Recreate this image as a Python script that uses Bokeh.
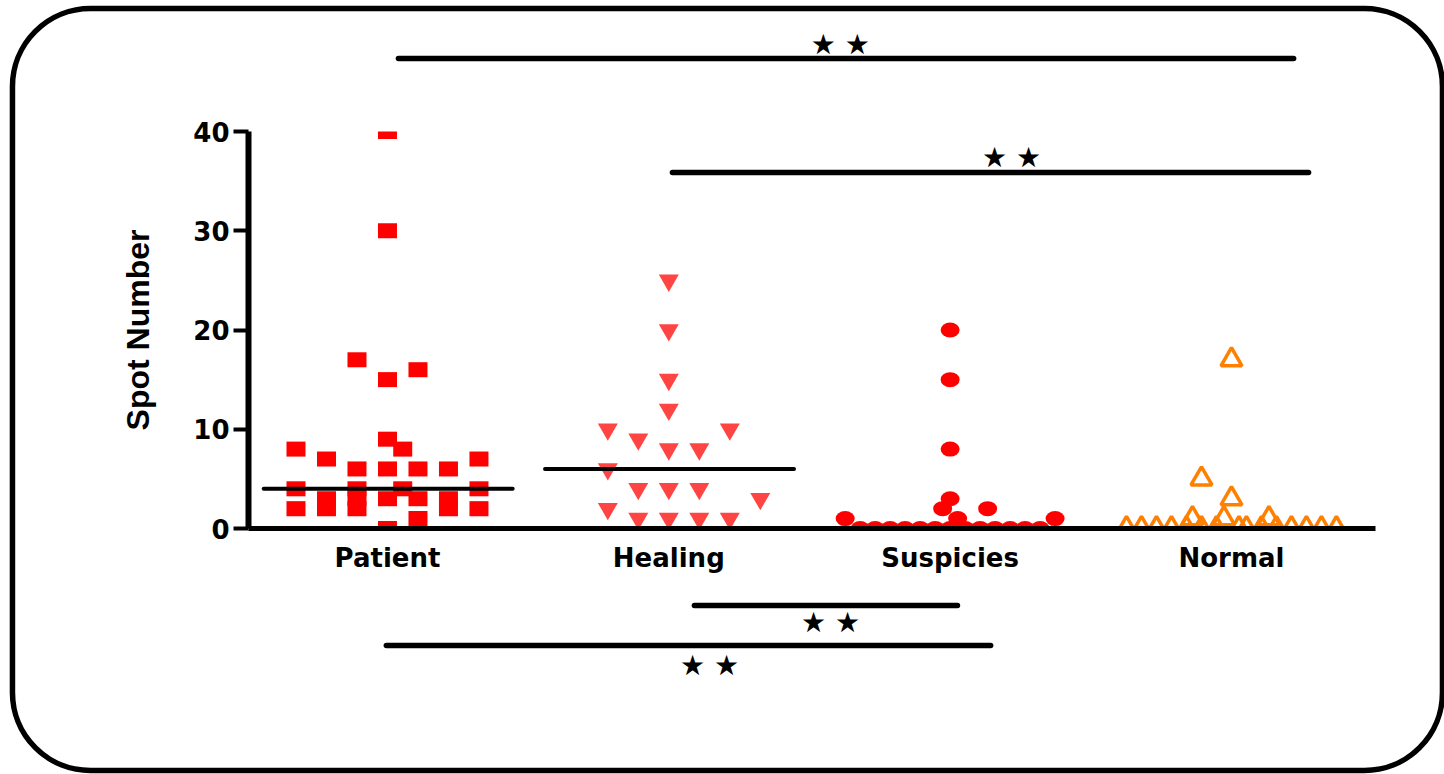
import numpy as np
from bokeh.plotting import figure
from bokeh.models import FixedTicker, Range1d
from bokeh.core.properties import value
from bokeh.embed import file_html
from bokeh.resources import INLINE

# ---------------- data ----------------
categories = ["Patient", "Healing", "Suspicies", "Normal"]

patient_values = [40, 30, 17, 16, 15, 9, 8, 8, 7, 7, 6, 6, 6, 6, 4, 4, 4, 4,
                  3, 3, 3, 3, 3, 2, 2, 2, 2, 2, 1, 0]
patient_slots = [0, 0, -1, 1, 0, 0, -3, 0.5, -2, 3, -1, 0, 1, 2, -3, -1, 0.5, 3,
                 -2, -1, 0, 1, 2, -3, -2, -1, 2, 3, 1, 0]

healing_values = [25, 20, 15, 12, 10, 10, 9, 8, 8, 6, 4, 4, 4, 3, 2, 1, 1, 1, 1]
healing_slots = [0, 0, 0, 0, -2, 2, -1, 0, 1, -2, -1, 0, 1, 3, -2, -1, 0, 1, 2]

suspicies_values = [20, 15, 8, 3, 2, 2, 1, 1, 1,
                    0, 0, 0, 0, 0, 0, 0, 0, 0, 0, 0, 0, 0]
suspicies_slots = [0, 0, 0, 0, -0.5, 2.5, -7, 0.5, 7,
                   -6, -5, -4, -3, -2, -1, 0, 1, 2, 3, 4, 5, 6]

normal_values = [17, 5, 3, 1, 1, 1,
                 0, 0, 0, 0, 0, 0, 0, 0, 0, 0, 0, 0, 0, 0, 0]
normal_slots = [0, -2, 0, -2.6, -0.5, 2.5,
                -7, -6, -5, -4, -3, -2, -1, 0.5, 1, 2, 3, 4, 5, 6, 7]

y_ticks = [0, 10, 20, 30, 40]
y_label = "Spot Number"

# significance comparisons (pairs) and their label
sig_pairs = [("Patient", "Normal"), ("Healing", "Normal"),
             ("Healing", "Suspicies"), ("Patient", "Suspicies")]
sig_text = ["★ ★", "★ ★", "★ ★", "★ ★"]

# ---------------- layout constants ----------------
W, H = 1444, 774
FRAME_L, FRAME_R, FRAME_T, FRAME_B = 248, 1375, 131, 528
X_START, X_END = -0.494, 3.512
wide_slot = 0.1084     # column spacing for Patient / Healing
narrow_slot = 0.0533   # column spacing for Suspicies / Normal

bar_x0 = [0.039, 1.013, 1.091, -0.004]
bar_x1 = [3.221, 3.274, 2.026, 2.144]
bar_y = [47.36, 35.87, -7.76, -11.79]
star_x = [1.610, 2.218, 1.575, 1.145]
star_y = [48.77, 37.38, -9.47, -13.8]

p = figure(width=W, height=H, output_backend="svg", toolbar_location=None,
           x_range=Range1d(X_START, X_END), y_range=Range1d(0, 40),
           min_border_left=FRAME_L, min_border_right=W - FRAME_R,
           min_border_top=FRAME_T, min_border_bottom=H - FRAME_B,
           outline_line_color=None, background_fill_color="white",
           border_fill_color="white")
p.xgrid.visible = False
p.ygrid.visible = False

# ---------------- points ----------------
px = [0 + s * wide_slot for s in patient_slots]
p.rect(px, patient_values, width=19, height=15, width_units="screen",
       height_units="screen", fill_color="#FF0000", line_color=None)

hx = [1 + s * wide_slot for s in healing_slots]
p.scatter(hx, healing_values, marker="inverted_triangle", size=20,
          fill_color="#FF4444", line_color=None)

sx = [2 + s * narrow_slot for s in suspicies_slots]
p.ellipse(sx, suspicies_values, width=19, height=15, width_units="screen",
          height_units="screen", fill_color="#FF0000", line_color=None)

nx = [3 + s * narrow_slot for s in normal_slots]
p.scatter(nx, normal_values, marker="triangle", size=21, fill_color=None,
          line_color="#FF8000", line_width=3.5)

# medians
groups = [patient_values, healing_values, suspicies_values, normal_values]
medians = [float(np.median(g)) for g in groups]
idx = np.arange(len(categories))
p.segment(idx - 0.44, medians, idx + 0.445, medians, line_color="black",
          line_width=4, line_cap="round")

# ---------------- significance bars ----------------
p.segment(bar_x0, bar_y, bar_x1, bar_y, line_color="black", line_width=5.5,
          line_cap="round", level="overlay")
p.text(star_x, star_y, text=sig_text, text_font=value("DejaVu Sans"),
       text_font_size="28px", text_align="center", text_baseline="middle",
       text_color="black", level="overlay")

# rounded outer border
p.quad(left=[-1.333], right=[3.75], top=[52.39], bottom=[-24.38],
       fill_color=None, line_color="black", line_width=5.5,
       border_radius=78, level="overlay")

# ---------------- axes ----------------
xa = p.xaxis[0]
xa.ticker = FixedTicker(ticks=list(range(len(categories))))
xa.major_label_overrides = {i: c for i, c in enumerate(categories)}
xa.major_tick_out = 0
xa.major_tick_in = 0
xa.minor_tick_out = 0
xa.minor_tick_in = 0
xa.axis_line_width = 5
xa.axis_line_color = "black"
xa.major_label_standoff = 14
xa.major_label_text_font = "DejaVu Sans"
xa.major_label_text_font_style = "bold"
xa.major_label_text_font_size = "26px"
xa.major_label_text_color = "black"

ya = p.yaxis[0]
ya.ticker = FixedTicker(ticks=y_ticks)
ya.major_tick_out = 15
ya.major_tick_in = 0
ya.minor_tick_out = 0
ya.minor_tick_in = 0
ya.major_tick_line_width = 4
ya.major_tick_line_color = "black"
ya.axis_line_width = 6
ya.axis_line_color = "black"
ya.major_label_standoff = 4
ya.major_label_text_font = "DejaVu Sans"
ya.major_label_text_font_style = "bold"
ya.major_label_text_font_size = "26px"
ya.major_label_text_color = "black"
ya.axis_label = y_label
ya.axis_label_standoff = 34
ya.axis_label_text_font = "Liberation Sans"
ya.axis_label_text_font_style = "bold"
ya.axis_label_text_font_size = "32px"
ya.axis_label_text_color = "black"

open("out.html", "w").write(file_html(p, INLINE))
